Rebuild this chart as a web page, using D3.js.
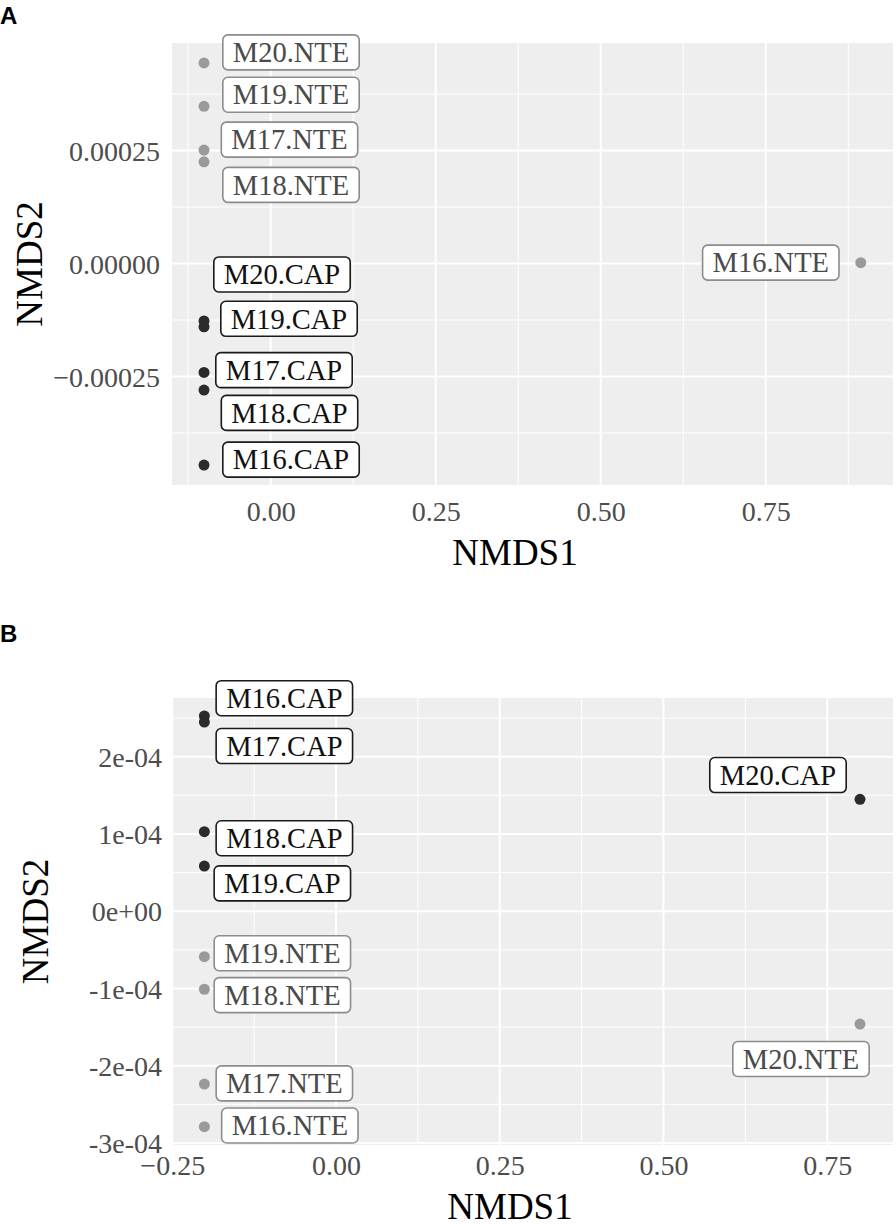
<!DOCTYPE html>
<html>
<head>
<meta charset="utf-8">
<script src="https://cdn.jsdelivr.net/npm/d3@7"></script>
<style>
  html, body { margin: 0; padding: 0; background: #fff; }
  svg { display: block; }
</style>
</head>
<body>
<svg id="chart" width="896" height="1229"></svg>
<script>
// ---------------- DATA ----------------
// Panel A
const samplesA = ["M20.NTE", "M19.NTE", "M17.NTE", "M18.NTE", "M16.NTE",
                  "M20.CAP", "M19.CAP", "M17.CAP", "M18.CAP", "M16.CAP"];
const groupA   = ["NTE", "NTE", "NTE", "NTE", "NTE", "CAP", "CAP", "CAP", "CAP", "CAP"];
const nmds1A   = [-0.101, -0.101, -0.101, -0.101, 0.894,
                  -0.101, -0.101, -0.101, -0.101, -0.101];
const nmds2A   = [0.000444, 0.000348, 0.000251, 0.000225, 0.000002,
                  -0.000127, -0.000140, -0.000241, -0.000280, -0.000446];
const xTicksA  = [0, 0.25, 0.5, 0.75];
const xTickLabelsA = ["0.00", "0.25", "0.50", "0.75"];
const yTicksA  = [-0.00025, 0, 0.00025];
const yTickLabelsA = ["\u22120.00025", "0.00000", "0.00025"];
const xLimA = [-0.1495, 0.9428];
const yLimA = [-0.000490, 0.000488];

// Panel B
const samplesB = ["M16.CAP", "M17.CAP", "M18.CAP", "M19.CAP", "M20.CAP",
                  "M19.NTE", "M18.NTE", "M17.NTE", "M16.NTE", "M20.NTE"];
const groupB   = ["CAP", "CAP", "CAP", "CAP", "CAP", "NTE", "NTE", "NTE", "NTE", "NTE"];
const nmds1B   = [-0.201, -0.201, -0.201, -0.201, 0.800,
                  -0.201, -0.201, -0.201, -0.201, 0.800];
const nmds2B   = [0.0002527, 0.0002449, 0.000103, 0.0000585, 0.0001448,
                  -0.0000589, -0.000101, -0.0002237, -0.0002789, -0.000146];
const xTicksB  = [-0.25, 0, 0.25, 0.5, 0.75];
const xTickLabelsB = ["\u22120.25", "0.00", "0.25", "0.50", "0.75"];
const yTicksB  = [-0.0003, -0.0002, -0.0001, 0, 0.0001, 0.0002];
const yTickLabelsB = ["-3e-04", "-2e-04", "-1e-04", "0e+00", "1e-04", "2e-04"];
const xLimB = [-0.2504, 0.8504];
const yLimB = [-0.0003026, 0.000276];

// ---------------- LAYOUT (label placement, px offsets of label centre from point) ----------------
const labelDxA = [87, 87, 85.5, 87, -90, 78, 85, 80, 85.5, 87];
const labelDyA = [-10.5, -11.5, -10.5, 23, 0, -46.5, -8, -2.3, 22.8, -5.5];
const labelDxB = [80, 80, 80, 78, -82, 78, 78, 80, 85.5, -59];
const labelDyB = [-17.8, 24, 6.6, 17.3, -24.3, -3.5, 5.9, -0.7, -1.2, 35];

// ---------------- STYLE ----------------
const serif = "'Liberation Serif', 'Times New Roman', Times, serif";
const colors = { CAP: "#2b2b2b", NTE: "#9a9a9a" };
const textColors = { CAP: "#111111", NTE: "#4a4a4a" };
const borderColors = { CAP: "#1a1a1a", NTE: "#8c8c8c" };

const svg = d3.select("#chart");

function drawPanel(cfg) {
  const { box, xLim, yLim, xTicks, xTickLabels, yTicks, yTickLabels,
          samples, groups, xs, ys, ldx, ldy, letter, letterY,
          xLabY, xTitleX, xTitleY, yLabX, yTitleX } = cfg;

  const x = d3.scaleLinear().domain(xLim).range([box.left, box.right]);
  const y = d3.scaleLinear().domain(yLim).range([box.bottom, box.top]);

  const g = svg.append("g");

  // background
  g.append("rect")
    .attr("x", box.left).attr("y", box.top)
    .attr("width", box.right - box.left).attr("height", box.bottom - box.top)
    .attr("fill", "#eeeeee");

  // minor grid (midpoints between majors, within limits)
  const xStep = xTicks[1] - xTicks[0];
  const yStep = yTicks[1] - yTicks[0];
  const xMinor = [];
  for (let v = xTicks[0] - xStep / 2; v <= xLim[1]; v += xStep) if (v >= xLim[0]) xMinor.push(v);
  const yMinor = [];
  for (let v = yTicks[0] - yStep / 2; v <= yLim[1]; v += yStep) if (v >= yLim[0]) yMinor.push(v);

  g.selectAll(".xminor").data(xMinor).join("line")
    .attr("x1", d => x(d)).attr("x2", d => x(d))
    .attr("y1", box.top).attr("y2", box.bottom)
    .attr("stroke", "#fff").attr("stroke-width", 1);
  g.selectAll(".yminor").data(yMinor).join("line")
    .attr("y1", d => y(d)).attr("y2", d => y(d))
    .attr("x1", box.left).attr("x2", box.right)
    .attr("stroke", "#fff").attr("stroke-width", 1);

  // major grid
  g.selectAll(".xmajor").data(xTicks).join("line")
    .attr("x1", d => x(d)).attr("x2", d => x(d))
    .attr("y1", box.top).attr("y2", box.bottom)
    .attr("stroke", "#fff").attr("stroke-width", 2);
  g.selectAll(".ymajor").data(yTicks).join("line")
    .attr("y1", d => y(d)).attr("y2", d => y(d))
    .attr("x1", box.left).attr("x2", box.right)
    .attr("stroke", "#fff").attr("stroke-width", 2);

  // axes (tick labels only)
  const xAxis = d3.axisBottom(x).tickValues(xTicks)
    .tickFormat((d, i) => xTickLabels[i]).tickSize(0).tickPadding(0);
  const xa = g.append("g").attr("transform", `translate(0,${xLabY})`).call(xAxis);
  xa.select(".domain").remove();
  xa.selectAll("text").attr("dy", 0).attr("y", 0)
    .attr("font-family", serif).attr("font-size", 28).attr("fill", "#4d4d4d");

  const yAxis = d3.axisLeft(y).tickValues(yTicks)
    .tickFormat((d, i) => yTickLabels[i]).tickSize(0).tickPadding(0);
  const ya = g.append("g").attr("transform", `translate(${yLabX},0)`).call(yAxis);
  ya.select(".domain").remove();
  ya.selectAll("text").attr("x", 0).attr("dy", "0.34em")
    .attr("font-family", serif).attr("font-size", 28).attr("fill", "#4d4d4d");

  // axis titles
  g.append("text")
    .attr("x", xTitleX).attr("y", xTitleY)
    .attr("text-anchor", "middle")
    .attr("font-family", serif).attr("font-size", 37).attr("fill", "#000")
    .text("NMDS1");
  g.append("text")
    .attr("transform", `translate(${yTitleX},${(box.top + box.bottom) / 2}) rotate(-90)`)
    .attr("text-anchor", "middle")
    .attr("font-family", serif).attr("font-size", 37).attr("fill", "#000")
    .text("NMDS2");

  // panel letter
  g.append("text")
    .attr("x", 0).attr("y", letterY)
    .attr("font-family", "'Liberation Sans', Arial, Helvetica, sans-serif")
    .attr("font-weight", "bold").attr("font-size", 24).attr("fill", "#000")
    .text(letter);

  const data = samples.map((s, i) => ({ s, grp: groups[i], vx: xs[i], vy: ys[i], dx: ldx[i], dy: ldy[i] }));

  // points
  g.selectAll(".pt").data(data).join("circle")
    .attr("cx", d => x(d.vx)).attr("cy", d => y(d.vy)).attr("r", 5.5)
    .attr("fill", d => colors[d.grp]);

  // labels (ggrepel-style boxes)
  const lab = g.selectAll(".lab").data(data).join("g")
    .attr("transform", d => `translate(${x(d.vx) + d.dx},${y(d.vy) + d.dy})`);
  lab.append("text")
    .attr("text-anchor", "middle").attr("dy", "0.34em")
    .attr("font-family", serif).attr("font-size", 28.5)
    .attr("fill", d => textColors[d.grp])
    .text(d => d.s);
  lab.each(function () {
    const t = d3.select(this).select("text");
    const w = t.node().getComputedTextLength();
    const bw = w + 20, bh = 35;
    d3.select(this).insert("rect", "text")
      .attr("x", -bw / 2).attr("y", -bh / 2)
      .attr("width", bw).attr("height", bh)
      .attr("rx", 5).attr("ry", 5)
      .attr("fill", "#fff")
      .attr("stroke", d => borderColors[d.grp])
      .attr("stroke-width", 1.6);
  });
}

drawPanel({
  box: { left: 172, right: 893, top: 43, bottom: 485 },
  xLim: xLimA, yLim: yLimA, xTicks: xTicksA, xTickLabels: xTickLabelsA,
  yTicks: yTicksA, yTickLabels: yTickLabelsA,
  samples: samplesA, groups: groupA, xs: nmds1A, ys: nmds2A,
  ldx: labelDxA, ldy: labelDyA,
  letter: "A", letterY: 24,
  xLabY: 521, xTitleX: 515, xTitleY: 565, yLabX: 160, yTitleX: 42
});

drawPanel({
  box: { left: 172, right: 893, top: 698, bottom: 1145 },
  xLim: xLimB, yLim: yLimB, xTicks: xTicksB, xTickLabels: xTickLabelsB,
  yTicks: yTicksB, yTickLabels: yTickLabelsB,
  samples: samplesB, groups: groupB, xs: nmds1B, ys: nmds2B,
  ldx: labelDxB, ldy: labelDyB,
  letter: "B", letterY: 642,
  xLabY: 1175, xTitleX: 510, xTitleY: 1219, yLabX: 162, yTitleX: 48
});
</script>
</body>
</html>
